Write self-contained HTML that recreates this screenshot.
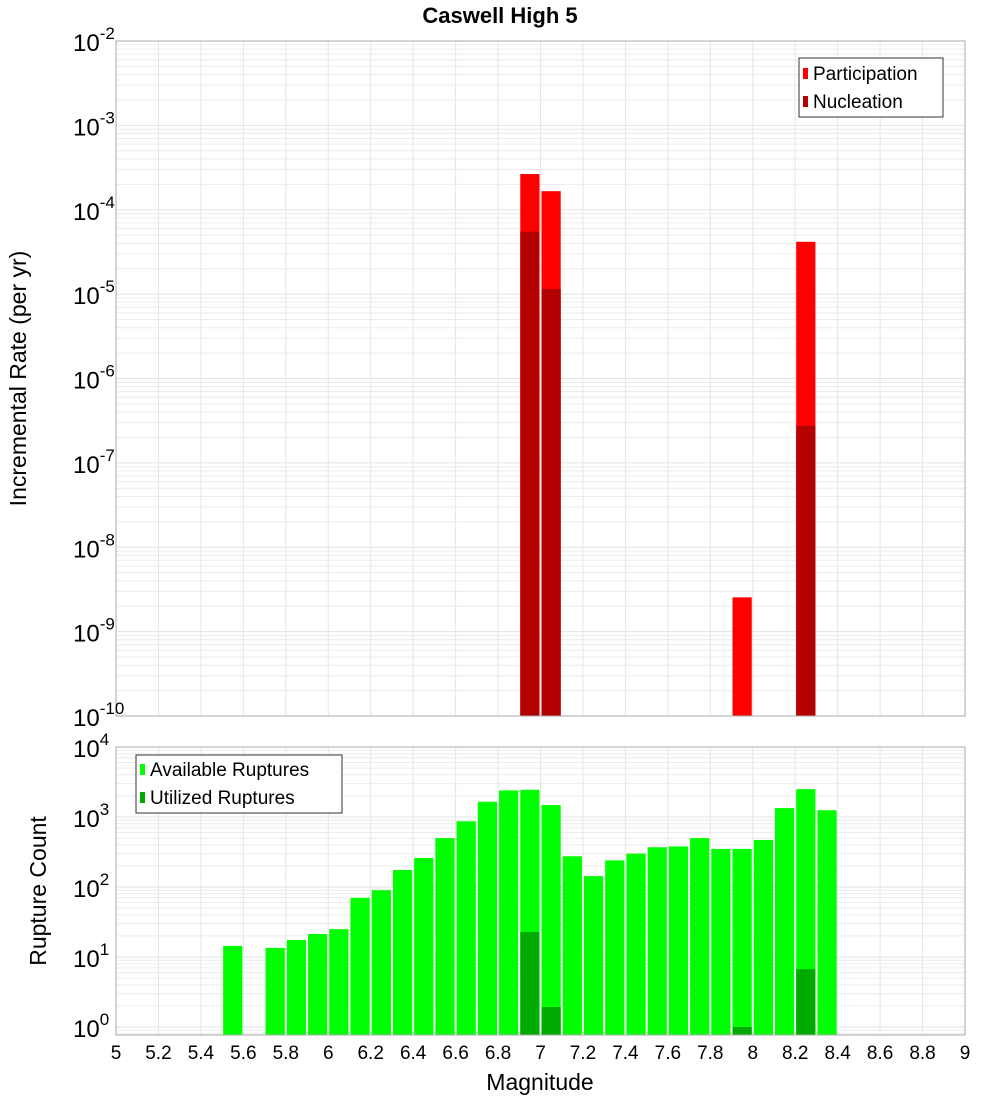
<!DOCTYPE html>
<html><head><meta charset="utf-8"><style>
body{margin:0;background:#fff;}
svg{display:block;font-family:"Liberation Sans","DejaVu Sans",sans-serif;}
</style></head><body>
<svg id="c" width="1000" height="1100" xmlns="http://www.w3.org/2000/svg"></svg>
<script>
const binCenters = [5.55,5.75,5.85,5.95,6.05,6.15,6.25,6.35,6.45,6.55,6.65,6.75,6.85,6.95,7.05,7.15,7.25,7.35,7.45,7.55,7.65,7.75,7.85,7.95,8.05,8.15,8.25,8.35];
const availableCounts = [14.4,13.5,17.5,21.3,25,70,90,175,260,500,870,1650,2400,2450,1480,275,143,240,300,370,380,500,350,350,470,1340,2500,1250];
const utilizedMags = [6.95,7.05,7.95,8.25];
const utilizedCounts = [22.7,1.93,1.0,6.7];
const rateMags = [6.95,7.05,7.95,8.25];
const participationRates = [2.65e-4,1.66e-4,2.55e-9,4.17e-5];
const nucleationRates = [5.5e-5,1.15e-5,0,2.75e-7];
const xTicks = [5,5.2,5.4,5.6,5.8,6,6.2,6.4,6.6,6.8,7,7.2,7.4,7.6,7.8,8,8.2,8.4,8.6,8.8,9];
const topExps = [-2,-3,-4,-5,-6,-7,-8,-9,-10];
const botExps = [4,3,2,1,0];

const svg=document.getElementById('c');
const NS='http://www.w3.org/2000/svg';
function mk(tag,attrs,parent,text){const e=document.createElementNS(NS,tag);for(const k in attrs)e.setAttribute(k,attrs[k]);if(text!==undefined)e.textContent=text;(parent||svg).appendChild(e);return e;}
const L=116,R=965;
const x=m=>L+(m-5)/4*(R-L);
const T1=41,B1=716;
const yTop=v=>T1+(-2-Math.log10(v))*(B1-T1)/8;
const T2=747,B2=1035;
const yBot=v=>1027-Math.log10(v)*70;
const bw=(x(5.1)-x(5))/2;

// title
let t=mk('text',{x:500,y:23,'text-anchor':'middle','font-size':22,'font-weight':'bold',fill:'#000'},svg,'Caswell High 5');


function grid(T,B,y,exps,g,name){
  // minor
  for(let i=0;i<exps.length-1;i++){const hi=Math.max(exps[i],exps[i+1]);const lo=hi-1;
    for(let k=2;k<10;k++){const yy=y(k*Math.pow(10,lo));if(yy>=T&&yy<=B)mk('line',{x1:L,x2:R,y1:yy,y2:yy,stroke:'#ececec','stroke-width':1},g);}}
  for(const e of exps){const yy=y(Math.pow(10,e));if(yy>=T&&yy<=B)mk('line',{x1:L,x2:R,y1:yy,y2:yy,stroke:'#e2e2e2','stroke-width':1},g);}
  if(B>1000){for(let k=2;k<10;k++){}const yy=y(0.8);}
  for(const m of xTicks)mk('line',{x1:x(m),x2:x(m),y1:T,y2:B,stroke:'#e6e6e6','stroke-width':1},g);
}
// top panel
const g1=mk('g',{});
mk('rect',{x:L,y:T1,width:R-L,height:B1-T1,fill:'#fff'},g1);
grid(T1,B1,yTop,topExps,g1);
rateMags.forEach((m,i)=>{
  let r=mk('rect',{x:x(m)-bw+1,y:yTop(participationRates[i]),width:2*bw-2,height:B1-yTop(participationRates[i]),fill:'#ff0000'},g1);
  
  if(nucleationRates[i]>0){let n=mk('rect',{x:x(m)-bw+1,y:yTop(nucleationRates[i]),width:2*bw-2,height:B1-yTop(nucleationRates[i]),fill:'#b30000'},g1);
  }
});
mk('rect',{x:L,y:T1,width:R-L,height:B1-T1,fill:'none',stroke:'#aaa'},g1);
topExps.forEach(e=>{const yy=yTop(Math.pow(10,e));const tx=mk('text',{x:73,y:yy+10,'font-size':24,fill:'#000'},svg);
  tx.textContent='10';const s=mk('tspan',{dy:-12,'font-size':17},tx,String(e));});
let yt=mk('text',{x:0,y:0,'font-size':23,'text-anchor':'middle',transform:`translate(26,${(T1+B1)/2+0}) rotate(-90)`,fill:'#000'},svg,'Incremental Rate (per yr)');

// legend top
const lg=mk('g',{});
mk('rect',{x:799,y:58,width:144,height:59,fill:'#fff',stroke:'#333'},lg);
mk('rect',{x:803,y:68,width:5,height:11,fill:'#ff0000'},lg);
mk('text',{x:813,y:80,'font-size':19,fill:'#000'},lg,'Participation');
mk('rect',{x:803,y:96,width:5,height:11,fill:'#b30000'},lg);
mk('text',{x:813,y:108,'font-size':19,fill:'#000'},lg,'Nucleation');

// bottom panel
const g2=mk('g',{});
mk('rect',{x:L,y:T2,width:R-L,height:B2-T2,fill:'#fff'},g2);
grid(T2,B2,yBot,[4,3,2,1,0,-1],g2);
binCenters.forEach((m,i)=>{const yy=yBot(availableCounts[i]);
  const r=mk('rect',{x:x(m)-bw+1,y:yy,width:2*bw-2,height:B2-yy,fill:'#00ff00'},g2);
  });
utilizedMags.forEach((m,i)=>{const yy=yBot(utilizedCounts[i]);
  const r=mk('rect',{x:x(m)-bw+1,y:yy,width:2*bw-2,height:B2-yy,fill:'#00aa00'},g2);
  });
mk('rect',{x:L,y:T2,width:R-L,height:B2-T2,fill:'none',stroke:'#aaa'},g2);
botExps.forEach(e=>{const yy=yBot(Math.pow(10,e));const tx=mk('text',{x:73,y:yy+10,'font-size':24,fill:'#000'},svg);
  tx.textContent='10';mk('tspan',{dy:-12,'font-size':17},tx,String(e));});
let yt2=mk('text',{x:0,y:0,'font-size':23,'text-anchor':'middle',transform:`translate(46,891) rotate(-90)`,fill:'#000'},svg,'Rupture Count');

const lg2=mk('g',{});
mk('rect',{x:136,y:755,width:206,height:58,fill:'#fff',stroke:'#333'},lg2);
mk('rect',{x:140,y:764,width:5,height:11,fill:'#00ff00'},lg2);
mk('text',{x:150,y:776,'font-size':19,fill:'#000'},lg2,'Available Ruptures');
mk('rect',{x:140,y:792,width:5,height:11,fill:'#00aa00'},lg2);
mk('text',{x:150,y:804,'font-size':19,fill:'#000'},lg2,'Utilized Ruptures');
// x ticks
xTicks.forEach(m=>{const tx=mk('text',{x:x(m),y:1059,'font-size':19,'text-anchor':'middle',fill:'#000'},svg,String(m));
  });
let xt=mk('text',{x:540,y:1090,'font-size':23,'text-anchor':'middle',fill:'#000'},svg,'Magnitude');

</script>
</body></html>
